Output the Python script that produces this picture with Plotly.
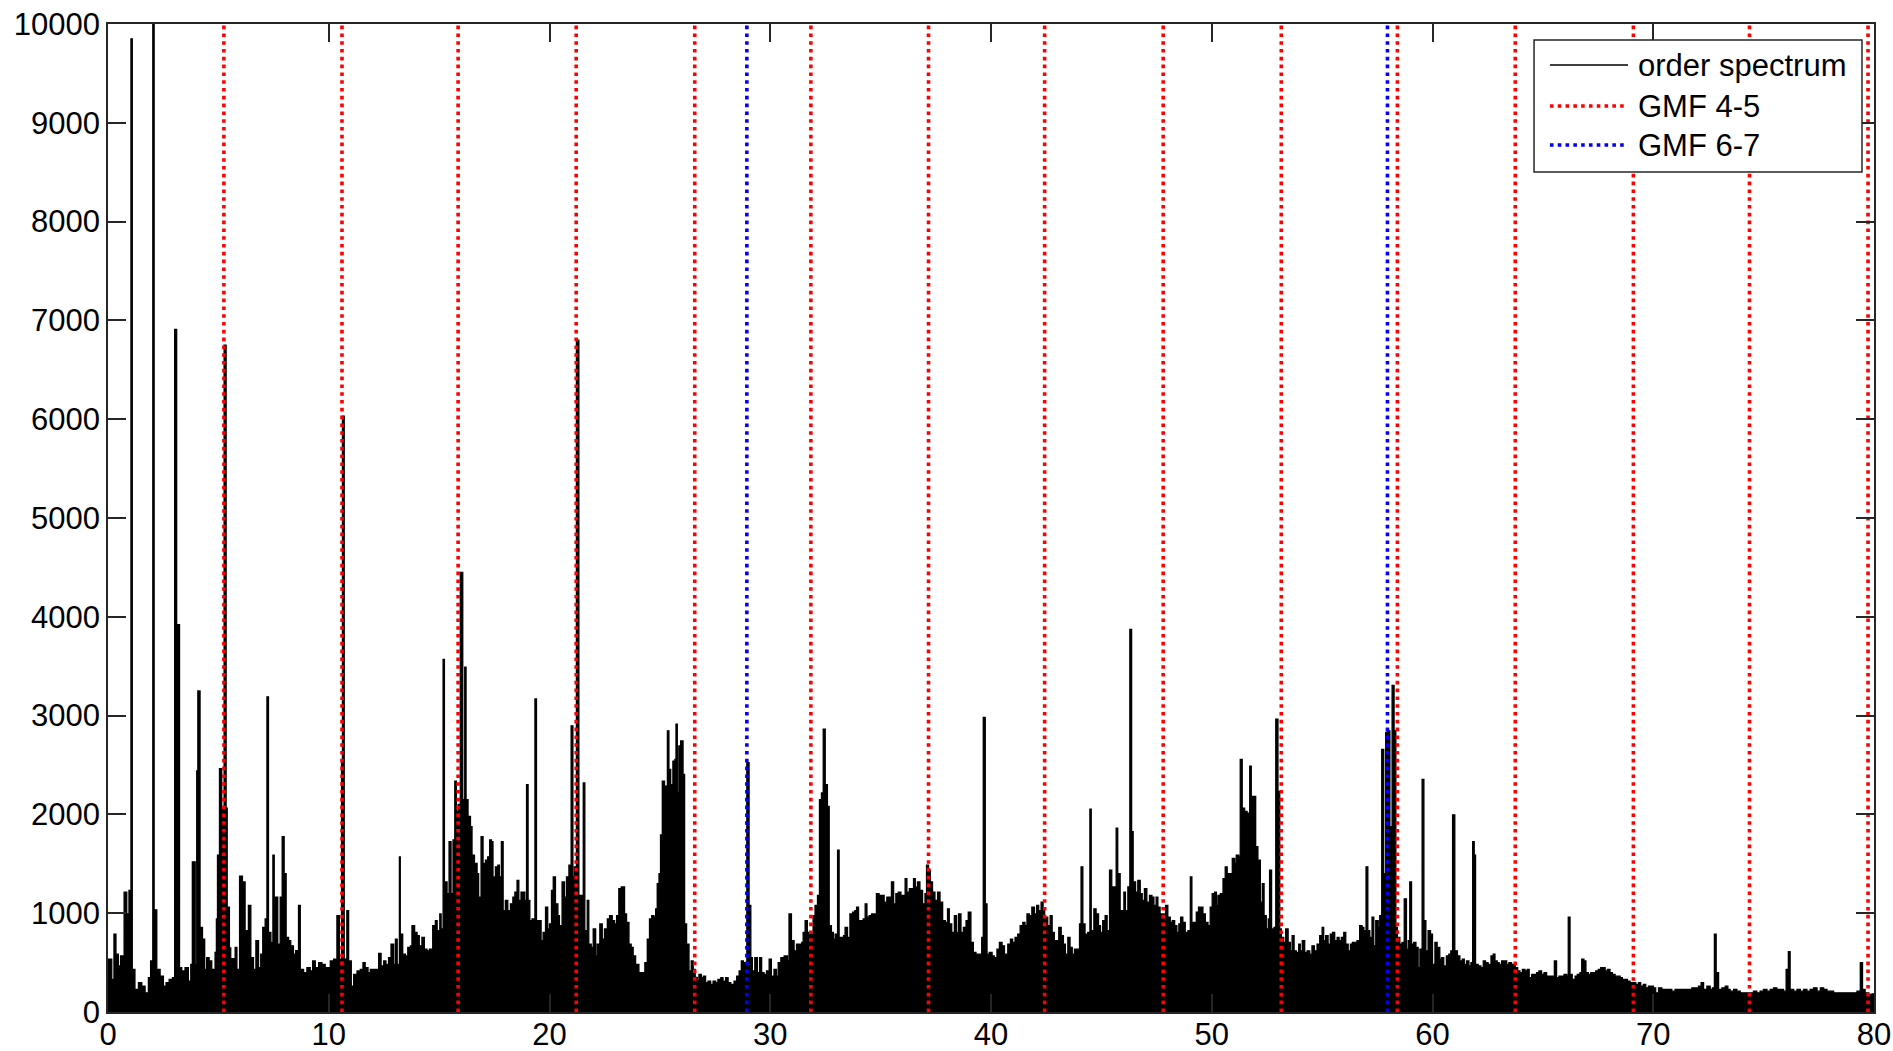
import plotly.graph_objects as go

# Order spectrum: broadband level read in four bands of 20 orders (order, amplitude)
band_00_20 = [
    (0.00, 534), (0.17, 330), (0.27, 789), (0.36, 585), (0.47, 466), (0.57, 568), (0.73, 1214), (0.85, 993),
    (0.95, 1231), (1.10, 432), (1.22, 228), (1.38, 296), (1.53, 262), (1.68, 194), (1.83, 347), (1.93, 517),
    (2.09, 1034), (2.21, 432), (2.36, 364), (2.51, 262), (2.63, 296), (2.77, 330), (2.92, 347), (3.24, 449),
    (3.34, 415), (3.49, 449), (3.64, 313), (3.75, 483), (3.95, 483), (4.17, 857), (4.28, 738), (4.38, 432),
    (4.47, 551), (4.58, 517), (4.70, 432), (4.85, 602), (4.91, 942), (4.96, 1588), (5.05, 2462), (5.15, 2060),
    (5.35, 2064), (5.40, 1060), (5.50, 650), (5.56, 540), (5.76, 653), (5.84, 432), (5.96, 1374), (6.09, 1316),
    (6.21, 823), (6.36, 1078), (6.47, 551), (6.59, 432), (6.70, 721), (6.82, 449), (6.92, 585), (7.01, 857),
    (7.12, 942), (7.27, 806), (7.38, 704), (7.47, 1588), (7.53, 900), (7.59, 1163), (7.69, 687), (7.80, 1163),
    (7.98, 1401), (8.07, 755), (8.18, 721), (8.28, 670), (8.40, 585), (8.50, 620), (8.71, 432), (8.86, 398),
    (9.01, 449), (9.16, 415), (9.27, 517), (9.39, 449), (9.54, 500), (9.69, 483), (9.84, 449), (10.07, 517),
    (10.22, 534), (10.48, 534), (10.70, 534), (10.90, 517), (11.02, 262), (11.13, 381), (11.28, 415),
    (11.43, 432), (11.55, 500), (11.65, 449), (11.78, 398), (11.88, 432), (12.03, 432), (12.18, 432),
    (12.37, 466), (12.49, 517), (12.59, 483), (12.71, 551), (12.82, 687), (12.94, 483), (13.02, 738),
    (13.10, 483), (13.24, 789), (13.35, 585), (13.47, 568), (13.58, 653), (13.70, 670), (13.77, 874),
    (13.89, 806), (14.00, 772), (14.10, 670), (14.22, 755), (14.33, 636), (14.45, 619), (14.56, 636),
    (14.65, 551), (14.71, 874), (14.83, 925), (14.91, 823), (15.03, 993), (15.09, 840), (15.24, 1316),
    (15.36, 1197), (15.54, 1197), (15.63, 1741), (15.78, 2030), (15.86, 2100), (16.07, 2149), (16.22, 2150),
    (16.31, 1980), (16.42, 1877), (16.49, 1588), (16.60, 1503), (16.72, 1401), (16.79, 1163), (16.99, 1503),
    (17.10, 1537), (17.20, 1571), (17.29, 1741), (17.37, 1724), (17.44, 1367), (17.55, 1469), (17.66, 1486),
    (17.73, 1367), (17.90, 1027), (18.00, 1129), (18.11, 1027), (18.23, 1095), (18.34, 1163), (18.43, 1214),
    (18.53, 1333), (18.61, 1129), (18.71, 1214), (18.81, 1214), (18.88, 1129), (19.03, 1129), (19.11, 925),
    (19.21, 942), (19.41, 925), (19.52, 925), (19.62, 721), (19.71, 806), (19.82, 1061), (19.92, 840),
]
band_20_40 = [
    (20.00, 891), (20.09, 1231), (20.17, 1367), (20.27, 1095), (20.38, 976), (20.45, 874), (20.68, 1163),
    (20.77, 1367), (20.88, 1486), (21.06, 1367), (21.13, 1469), (21.33, 1180), (21.45, 1180), (21.60, 823),
    (21.71, 1129), (21.78, 687), (21.89, 653), (21.98, 840), (22.09, 568), (22.16, 687), (22.28, 891),
    (22.39, 738), (22.49, 840), (22.62, 942), (22.72, 976), (22.84, 925), (22.95, 891), (23.04, 976),
    (23.14, 1248), (23.25, 1265), (23.34, 1265), (23.40, 993), (23.49, 908), (23.60, 687), (23.70, 653),
    (23.79, 568), (23.90, 483), (24.05, 398), (24.20, 398), (24.32, 500), (24.43, 738), (24.53, 942),
    (24.63, 976), (24.73, 959), (24.81, 1044), (24.88, 1299), (24.96, 1401), (25.03, 1792), (25.11, 2336),
    (25.21, 2285), (25.29, 2285), (25.41, 2455), (25.49, 2302), (25.59, 2540), (25.68, 2557), (25.79, 2217),
    (25.86, 2693), (26.05, 2404), (26.12, 891), (26.21, 687), (26.32, 415), (26.42, 517), (26.51, 432),
    (26.60, 350), (26.70, 313), (26.77, 381), (26.88, 347), (26.97, 364), (27.07, 296), (27.18, 313),
    (27.30, 279), (27.41, 313), (27.53, 296), (27.63, 330), (27.76, 347), (27.86, 313), (27.98, 347),
    (28.09, 296), (28.21, 279), (28.36, 313), (28.48, 364), (28.59, 415), (28.69, 517), (28.78, 500),
    (28.89, 483), (29.04, 1078), (29.12, 551), (29.19, 415), (29.30, 551), (29.42, 398), (29.52, 551),
    (29.61, 398), (29.72, 381), (29.83, 415), (29.95, 534), (30.05, 364), (30.17, 432), (30.28, 364),
    (30.36, 500), (30.48, 551), (30.63, 568), (30.78, 517), (30.96, 721), (31.08, 619), (31.19, 687),
    (31.31, 687), (31.43, 704), (31.49, 806), (31.68, 806), (31.84, 789), (31.94, 976), (32.03, 1078),
    (32.14, 1180), (32.23, 2149), (32.32, 2217), (32.49, 2302), (32.59, 2081), (32.67, 874), (32.77, 806),
    (32.86, 738), (32.94, 789), (33.12, 755), (33.23, 755), (33.32, 772), (33.39, 857), (33.50, 755),
    (33.61, 993), (33.73, 1010), (33.83, 1027), (33.91, 1061), (34.00, 925), (34.10, 925), (34.21, 942),
    (34.30, 1095), (34.38, 959), (34.48, 976), (34.59, 993), (34.71, 993), (34.81, 1197), (34.93, 1180),
    (35.06, 1180), (35.16, 1112), (35.28, 1163), (35.39, 1163), (35.49, 1316), (35.59, 1095), (35.69, 1197),
    (35.80, 1214), (35.92, 1180), (36.02, 1180), (36.11, 1350), (36.19, 1214), (36.30, 1248), (36.42, 1248),
    (36.49, 1350), (36.57, 1265), (36.67, 1316), (36.78, 1231), (36.90, 1095), (37.01, 1197), (37.08, 1486),
    (37.17, 1435), (37.25, 1316), (37.35, 1214), (37.46, 1129), (37.58, 1214), (37.69, 1112), (37.81, 925),
    (37.93, 908), (38.03, 1044), (38.11, 891), (38.22, 806), (38.34, 976), (38.44, 806), (38.53, 993),
    (38.64, 806), (38.75, 857), (38.87, 925), (38.97, 1010), (39.09, 704), (39.20, 602), (39.32, 585),
    (39.47, 585), (39.58, 755), (39.74, 1095), (39.82, 585), (39.92, 602),
]
band_40_60 = [
    (40.05, 568), (40.15, 551), (40.27, 636), (40.38, 704), (40.50, 670), (40.61, 585), (40.76, 687),
    (40.88, 738), (40.98, 704), (41.09, 755), (41.21, 789), (41.32, 874), (41.44, 908), (41.54, 874),
    (41.63, 993), (41.74, 976), (41.85, 1061), (41.97, 993), (42.07, 1078), (42.16, 1027), (42.27, 1112),
    (42.36, 1027), (42.43, 959), (42.57, 874), (42.68, 976), (42.77, 806), (42.87, 721), (42.98, 721),
    (43.07, 857), (43.18, 772), (43.28, 687), (43.37, 585), (43.48, 755), (43.58, 653), (43.68, 585),
    (43.78, 636), (43.90, 636), (44.01, 891), (44.16, 891), (44.26, 789), (44.38, 806), (44.54, 823),
    (44.66, 1044), (44.76, 993), (44.87, 874), (44.96, 806), (45.06, 925), (45.17, 976), (45.26, 823),
    (45.37, 1435), (45.47, 1265), (45.56, 1265), (45.74, 1401), (45.85, 1027), (45.93, 1027), (46.02, 1214),
    (46.09, 1027), (46.20, 1265), (46.37, 1826), (46.44, 1316), (46.55, 1214), (46.65, 1333), (46.76, 1197),
    (46.85, 1129), (46.95, 1248), (47.06, 1112), (47.18, 1180), (47.29, 1163), (47.38, 1078), (47.48, 1163),
    (47.56, 1061), (47.66, 993), (47.80, 993), (47.91, 1078), (48.01, 959), (48.12, 908), (48.21, 925),
    (48.32, 874), (48.42, 806), (48.51, 891), (48.59, 959), (48.69, 908), (48.80, 806), (48.92, 823),
    (49.10, 908), (49.19, 908), (49.30, 1010), (49.40, 1061), (49.49, 1061), (49.60, 993), (49.71, 908),
    (49.83, 874), (49.93, 1061), (50.02, 1197), (50.13, 1214), (50.21, 1078), (50.28, 1180), (50.39, 1197),
    (50.51, 1350), (50.61, 1469), (50.70, 1401), (50.81, 1401), (50.93, 1554), (51.04, 1503), (51.11, 1588),
    (51.22, 1571), (51.38, 2064), (51.49, 2030), (51.60, 2013), (51.79, 2183), (51.90, 2183), (51.99, 1673),
    (52.09, 1537), (52.20, 1112), (52.29, 1299), (52.37, 976), (52.47, 840), (52.56, 942), (52.71, 840),
    (52.82, 857), (53.00, 2234), (53.08, 840), (53.15, 755), (53.26, 704), (53.35, 840), (53.46, 704),
    (53.56, 619), (53.64, 772), (53.73, 619), (53.83, 602), (53.94, 687), (54.01, 619), (54.10, 721),
    (54.21, 602), (54.32, 619), (54.44, 585), (54.54, 670), (54.65, 619), (54.77, 687), (54.89, 772),
    (55.00, 857), (55.07, 721), (55.16, 772), (55.27, 687), (55.37, 789), (55.47, 806), (55.57, 721),
    (55.68, 755), (55.77, 721), (55.87, 755), (55.98, 806), (56.07, 687), (56.18, 619), (56.28, 687),
    (56.37, 704), (56.48, 704), (56.58, 721), (56.70, 874), (56.81, 857), (56.89, 823), (57.07, 823),
    (57.16, 755), (57.26, 959), (57.34, 670), (57.43, 925), (57.54, 857), (57.61, 976), (57.79, 1401),
    (57.88, 2829), (57.96, 2846), (58.07, 1877), (58.26, 2846), (58.34, 857), (58.41, 755), (58.52, 687),
    (58.62, 704), (58.82, 636), (58.90, 721), (59.05, 687), (59.15, 704), (59.25, 653), (59.35, 449),
    (59.43, 636), (59.61, 925), (59.70, 619), (59.80, 823), (59.91, 789),
]
band_60_80 = [
    (60.00, 483), (60.11, 704), (60.21, 653), (60.33, 534), (60.41, 551), (60.51, 466), (60.63, 568),
    (60.74, 585), (60.83, 619), (61.01, 619), (61.13, 568), (61.24, 517), (61.35, 534), (61.44, 483),
    (61.54, 517), (61.65, 466), (61.74, 500), (61.95, 483), (62.07, 466), (62.19, 449), (62.30, 517),
    (62.40, 500), (62.52, 483), (62.65, 568), (62.75, 585), (62.83, 517), (62.93, 500), (63.02, 483),
    (63.13, 517), (63.24, 517), (63.36, 483), (63.46, 500), (63.58, 483), (63.75, 449), (63.86, 415),
    (63.96, 398), (64.07, 432), (64.19, 415), (64.29, 432), (64.38, 347), (64.49, 381), (64.61, 381),
    (64.72, 398), (64.82, 415), (64.94, 381), (65.05, 398), (65.17, 364), (65.28, 364), (65.40, 364),
    (65.52, 517), (65.62, 347), (65.73, 364), (65.85, 364), (65.96, 381), (66.08, 364), (66.23, 381),
    (66.33, 330), (66.46, 364), (66.56, 381), (66.68, 398), (66.76, 534), (66.86, 517), (66.95, 398),
    (67.06, 381), (67.17, 398), (67.29, 398), (67.39, 415), (67.51, 432), (67.62, 449), (67.71, 449),
    (67.82, 415), (67.92, 432), (68.04, 398), (68.15, 381), (68.27, 364), (68.37, 364), (68.50, 347),
    (68.60, 330), (68.72, 330), (68.83, 313), (68.95, 296), (69.10, 296), (69.21, 279), (69.33, 296),
    (69.43, 262), (69.55, 279), (69.66, 245), (69.78, 262), (69.89, 262), (70.01, 245), (70.11, 194),
    (70.24, 245), (70.39, 228), (70.54, 228), (70.69, 228), (70.84, 211), (70.99, 228), (71.14, 228),
    (71.37, 228), (71.60, 228), (71.75, 245), (71.90, 245), (72.05, 262), (72.17, 296), (72.28, 228),
    (72.43, 262), (72.58, 228), (72.68, 245), (72.85, 398), (72.96, 228), (73.11, 245), (73.26, 262),
    (73.38, 228), (73.48, 211), (73.64, 228), (73.79, 211), (73.94, 194), (74.09, 194), (74.24, 194),
    (74.36, 194), (74.54, 211), (74.69, 194), (74.84, 211), (74.99, 228), (75.15, 211), (75.30, 228),
    (75.45, 245), (75.60, 228), (75.75, 228), (75.90, 211), (76.02, 432), (76.20, 228), (76.36, 211),
    (76.51, 228), (76.66, 211), (76.81, 228), (76.96, 211), (77.11, 228), (77.26, 245), (77.42, 211),
    (77.57, 245), (77.72, 228), (77.87, 211), (78.02, 211), (78.17, 194), (78.32, 194), (78.47, 194),
    (78.62, 194), (78.78, 194), (78.93, 194), (79.08, 194), (79.23, 211), (79.48, 228), (79.60, 194),
    (79.76, 177), (79.91, 184), (80.00, 184),
]

# Narrow spectral lines rising above the broadband level (order, amplitude)
peak_orders = [
    1.04, 2.03, 3.02, 3.11, 3.82, 4.02, 4.07, 5.26, 7.20, 7.89, 8.63, 10.37, 10.58, 10.62, 10.82,
    12.26, 13.20, 15.18, 15.45, 15.71, 15.96, 16.16, 16.90, 17.82, 18.96, 19.34, 20.57, 20.98,
    21.22, 21.53, 25.34, 25.73, 25.94, 28.94, 30.85, 31.58, 32.40, 33.05, 39.65, 44.08, 44.48,
    45.67, 46.29, 49.03, 51.29, 51.72, 52.62, 52.90, 56.99, 57.70, 58.17, 58.72, 58.97, 59.53,
    60.91, 61.82, 61.89, 66.15, 72.77, 76.12, 79.38,
]
peak_amplitude = [
    9850, 10500, 6910, 3920, 1520, 2440, 3250, 6750, 3190, 1775, 1078, 976, 2520, 6030, 1027,
    592, 1571, 3570, 1724, 2336, 4450, 3490, 1775, 1724, 2302, 3169, 1316, 2897,
    6800, 2319, 2846, 2914, 2744, 2523, 993, 925, 2863, 1639, 2982, 1469, 2054,
    1860, 3873, 1367, 2557, 2489, 1435, 2965, 1469, 2659, 3305, 1146, 1316, 2353,
    1996, 1724, 1588, 959, 789, 612, 500,
]

# Gear-mesh frequency harmonics (orders)
gmf_45 = [5.25, 10.60, 15.86, 21.21, 26.58, 31.84, 37.17, 42.43, 47.80, 53.15, 58.41, 63.75, 69.10, 74.36, 79.73]
gmf_67 = [28.94, 57.96]

x_ticks = [0, 10, 20, 30, 40, 50, 60, 70, 80]
y_ticks = [0, 1000, 2000, 3000, 4000, 5000, 6000, 7000, 8000, 9000, 10000]
legend_labels = ["order spectrum", "GMF 4-5", "GMF 6-7"]

Y_MAX = 10000
FONT = "Liberation Sans, Arial, sans-serif"
FONT_SIZE = 31
FRAME = "#262626"

# merge broadband level and spectral lines into one ordered series
spectrum = sorted(band_00_20 + band_20_40 + band_40_60 + band_60_80 + list(zip(peak_orders, peak_amplitude)))
spec_x = [p[0] for p in spectrum]
spec_y = [p[1] for p in spectrum]


def vlines(orders):
    xs, ys = [], []
    for o in orders:
        xs += [o, o, None]
        ys += [0, Y_MAX, None]
    return xs, ys


fig = go.Figure()
fig.add_trace(go.Scatter(
    x=spec_x, y=spec_y, mode="lines", name=legend_labels[0],
    line=dict(color="black", width=1.3, shape="hv"),
    fill="tozeroy", fillcolor="black", showlegend=False,
))

DOT = "3.6px,4.2px"
DOT_W = 3.6
rx, ry = vlines(gmf_45)
fig.add_trace(go.Scatter(x=rx, y=ry, mode="lines", name=legend_labels[1],
                         line=dict(color="#ff0000", width=DOT_W, dash=DOT), showlegend=False))
bx, by = vlines(gmf_67)
fig.add_trace(go.Scatter(x=bx, y=by, mode="lines", name=legend_labels[2],
                         line=dict(color="#0000ff", width=DOT_W, dash=DOT), showlegend=False))

# boxed legend in the upper-right corner
box = dict(x0=0.8075, x1=0.9932, y0=0.8502, y1=0.9838)
rows_y = [0.9585, 0.9170, 0.8775]
styles = [dict(color="black", width=1.5), dict(color="#ff0000", width=DOT_W, dash=DOT),
          dict(color="#0000ff", width=DOT_W, dash=DOT)]
shapes = [dict(type="rect", xref="paper", yref="paper", layer="above",
               fillcolor="white", line=dict(color=FRAME, width=1.5), **box)]
annotations = []
for label, yy, st in zip(legend_labels, rows_y, styles):
    shapes.append(dict(type="line", xref="paper", yref="paper", layer="above",
                       x0=0.8165, x1=0.8607, y0=yy, y1=yy, line=st))
    annotations.append(dict(text=label, xref="paper", yref="paper", x=0.8655, y=yy,
                            xanchor="left", yanchor="middle", showarrow=False,
                            font=dict(family=FONT, size=FONT_SIZE, color="black")))

axis_common = dict(
    showline=True, linecolor=FRAME, linewidth=1.5, mirror="ticks",
    ticks="inside", ticklen=18, tickwidth=1.5, tickcolor=FRAME,
    showgrid=False, zeroline=False, automargin=False,
    tickfont=dict(family=FONT, size=FONT_SIZE, color="black"),
)

fig.update_layout(
    width=1893, height=1051,
    margin=dict(l=108, r=19, t=24, b=39, autoexpand=False),
    paper_bgcolor="white", plot_bgcolor="white",
    xaxis=dict(range=[0, 80], tickvals=x_ticks, ticktext=[str(v) for v in x_ticks],
               ticklabelstandoff=-6, **axis_common),
    yaxis=dict(range=[0, Y_MAX], tickvals=y_ticks, ticktext=[str(v) for v in y_ticks], **axis_common),
    shapes=shapes, annotations=annotations,
    showlegend=False,
)

fig.write_html("out.html")
